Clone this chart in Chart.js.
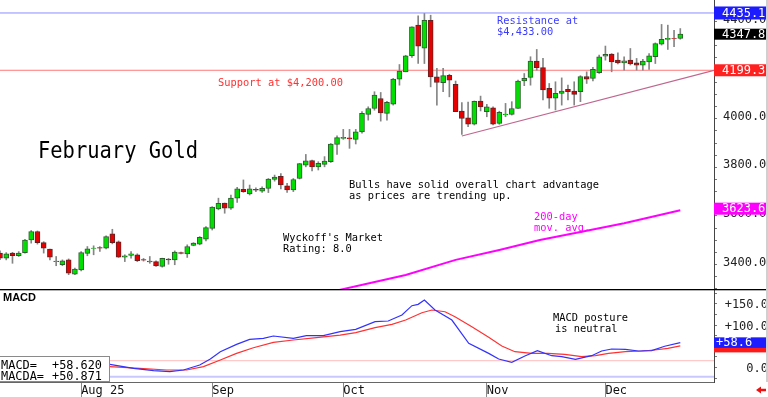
<!DOCTYPE html>
<html><head><meta charset="utf-8">
<script src="https://cdn.jsdelivr.net/npm/chart.js@4.4.1/dist/chart.umd.min.js"></script>
<style>
html,body{margin:0;padding:0;background:#fff;overflow:hidden;}
#wrap{position:relative;width:768px;height:397px;background:#fff;}
canvas{position:absolute;left:0;}
#c1{top:0;width:768px;height:289px;}
#c2{top:289px;width:768px;height:108px;}
</style></head><body>
<div id="wrap"><canvas id="c1" width="768" height="289"></canvas><canvas id="c2" width="768" height="108"></canvas></div>
<script>
// ---- Daily candles, Feb gold, Jul 15 - Dec 16 2025 (index = trading day) ----
const opens  = [3447,3426,3447,3436,3449,3501,3536,3490,3463,3412,3399,3419,3360,3378,3446,3466,3470,3467,3526,3493,
                3430,3437,3440,3420,3411,3412,3392,3422,3419,3449,3444,3479,3484,3504,3549,3629,3653,3632,3673,3709,
                3690,3709,3702,3713,3750,3763,3724,3707,3754,3809,3828,3802,3812,3823,3894,3919,3921,3915,3946,4018,
                4042,4083,4022,4060,4163,4193,4259,4385,4290,4405,4172,4148,4179,4141,4031,4004,3977,4073,4029,4045,
                3981,4016,4018,4042,4156,4170,4237,4210,4125,4084,4104,4121,4114,4111,4173,4166,4189,4257,4266,4241,
                4230,4241,4230,4220,4234,4255,4307,4326,4331,4330];
const highs  = [3456,3449,3450,3453,3504,3540,3538,3494,3463,3433,3419,3423,3385,3453,3474,3477,3474,3518,3545,3497,
                3440,3453,3444,3425,3433,3415,3426,3425,3456,3451,3481,3490,3515,3556,3638,3673,3653,3686,3718,3748,
                3727,3716,3720,3754,3768,3774,3734,3754,3816,3853,3830,3823,3844,3898,3930,3956,3956,3956,4029,4049,
                4111,4108,4072,4166,4223,4261,4378,4423,4433,4426,4207,4207,4183,4155,4066,4068,4073,4093,4059,4049,
                4031,4063,4070,4159,4186,4255,4285,4248,4145,4152,4168,4138,4152,4177,4193,4211,4262,4299,4268,4271,
                4255,4289,4248,4244,4268,4312,4388,4385,4364,4371];
const lows   = [3420,3419,3405,3433,3447,3488,3484,3447,3419,3395,3395,3358,3358,3374,3436,3440,3454,3464,3485,3429,
                3412,3426,3412,3414,3405,3392,3389,3401,3399,3444,3429,3477,3481,3497,3542,3625,3611,3627,3655,3697,
                3686,3700,3697,3696,3743,3711,3697,3700,3752,3802,3785,3789,3802,3820,3853,3915,3878,3896,3940,3994,
                4035,3990,3994,4056,4138,4193,4252,4227,4227,4131,4056,4111,4090,4029,3935,3967,3974,4032,4008,3974,
                3977,4008,4015,4042,4136,4138,4200,4077,4043,4036,4056,4077,4056,4070,4145,4156,4186,4241,4193,4225,
                4200,4221,4200,4200,4203,4227,4303,4285,4296,4327];
const closes = [3426,3444,3436,3447,3501,3536,3490,3467,3430,3414,3415,3364,3381,3449,3464,3468,3467,3515,3490,3430,
                3436,3444,3416,3418,3414,3394,3425,3419,3451,3446,3474,3488,3512,3552,3636,3652,3632,3673,3711,3700,
                3711,3706,3713,3752,3760,3727,3707,3750,3815,3827,3802,3816,3826,3896,3922,3923,3917,3946,4022,4042,
                4097,4024,4067,4163,4196,4259,4378,4298,4405,4172,4149,4177,4159,4029,4001,3977,4072,4049,4049,3977,
                4026,4019,4042,4155,4166,4237,4210,4118,4084,4104,4114,4111,4100,4173,4163,4203,4255,4265,4234,4230,
                4238,4225,4220,4237,4259,4309,4327,4331,4330,4347.8];

// 200-day moving average (index, value)
const maIdx  = [54, 65, 73, 80, 86.5, 94.6, 100, 109];
const maVals = [3293, 3357, 3419, 3460, 3501, 3542, 3570, 3623.6];

// Levels
const resistanceLevel = 4435.1;
const supportLevel = 4199.3;
const trendIdx  = [74, 114.4];
const trendVals = [3929, 4199];

// MACD (index, value)
const macdIdx  = [17.6,21.4,24.6,27.2,29.4,32,33.7,35.3,37.9,40,42.2,43.8,47,49.1,51.8,54.5,57,60.1,62.2,64.4,66,67,68,69.7,72.4,75.1,78.3,79.9,82,84.1,86.1,88.4,90,92.2,94.8,96.4,98,100.2,102.3,104.4,106.5,109];
const macdVals = [7.4,-2,-7.5,-9.8,-5.9,5.9,20,37.2,54.5,66.3,68.6,74.1,68.6,74.9,74.9,84.3,89.8,107.8,109.4,123.5,145.5,148.6,158.8,135.3,111.7,56.8,33.3,20,12.1,27,39.6,27.8,25.5,19.2,27.8,38.8,43.5,42.7,38.8,39.6,50,58.62];
const sigIdx   = [17.6,22.4,26.7,29.9,32.6,35.3,37.9,40.6,43.8,47,50.7,54.5,57,60.1,62.8,65,67.6,69.2,71.3,72.9,75.6,78.3,80.4,82.5,85.2,87.8,90.5,93.2,95.4,97.5,100.2,102.8,104.9,107,109];
const sigVals  = [2,-2,-5.9,-5.9,2,17.6,33.3,46.6,59.2,64.7,70.2,76.4,82,93.7,101.5,111.7,129,135.3,131.3,119.6,96.1,71,50.6,37.2,33.3,33.3,31,25.5,27.8,33.3,37.2,38.8,41.2,45.1,50.871];
const macdUpperRef = 16;
const macdLowerRef = -21.6;

// Axis ticks
const priceTicks = [3300,3350,3400,3450,3500,3550,3600,3650,3700,3750,3800,3850,3900,3950,4000,4050,4100,4150,4200,4250,4300,4350,4400,4450];
const priceLabelTicks = [3400,3600,3800,4000,4400];
const macdTicks = [-25,0,25,50,75,100,125,150,175];
const macdLabelTicks = [0,100,150];
const monthIdx = [13, 34, 55, 78, 97];
const monthLabels = ['Aug 25', 'Sep', 'Oct', 'Nov', 'Dec'];

const XMIN = 0, XMAX = 114.4;
const MONO = '"DejaVu Sans Mono", "Liberation Mono", monospace';
const idx = opens.map((_, i) => i);
const pts = (xs, ys) => xs.map((x, i) => ({x: x, y: ys[i]}));

function txt(ctx, s, x, y, color, size, w) {
  ctx.save();
  ctx.fillStyle = color;
  ctx.font = size + 'px ' + MONO;
  ctx.textAlign = 'left';
  ctx.textBaseline = 'alphabetic';
  ctx.fillText(s, x, y, w || s.length * 6.25);
  ctx.restore();
}
function box(ctx, yc, h, s, bg, tx) {
  ctx.save();
  ctx.fillStyle = bg;
  ctx.fillRect(714, yc - h / 2, 54, h);
  ctx.fillStyle = '#fff';
  ctx.font = '12px ' + MONO;
  ctx.textBaseline = 'middle';
  ctx.textAlign = 'left';
  ctx.fillText(s, tx, yc + 0.5);
  ctx.restore();
}

const priceDecor = {
  id: 'priceDecor',
  afterDraw(chart) {
    const ctx = chart.ctx, y = chart.scales.y;
    txt(ctx, 'Resistance at', 497, 24, '#3c3cff', 11);
    txt(ctx, '$4,433.00', 497, 35, '#3c3cff', 11);
    txt(ctx, 'Support at $4,200.00', 218, 86, '#ff3030', 11);
    txt(ctx, 'February Gold', 38, 158, '#000', 23, 160);
    txt(ctx, 'Bulls have solid overall chart advantage', 349, 188, '#000', 11);
    txt(ctx, 'as prices are trending up.', 349, 199, '#000', 11);
    txt(ctx, "Wyckoff's Market", 283, 241, '#000', 11);
    txt(ctx, 'Rating: 8.0', 283, 252, '#000', 11);
    txt(ctx, '200-day', 534, 220, '#ff00ff', 11);
    txt(ctx, 'mov. avg.', 534, 230.5, '#ff00ff', 11);
    box(ctx, y.getPixelForValue(resistanceLevel), 13, resistanceLevel.toFixed(1), '#1c1cff', 722);
    box(ctx, y.getPixelForValue(closes[closes.length - 1]), 11, closes[closes.length - 1].toFixed(1), '#000', 722);
    box(ctx, y.getPixelForValue(supportLevel), 12, supportLevel.toFixed(1), '#ff2020', 722);
    box(ctx, y.getPixelForValue(maVals[maVals.length - 1]) - 1.5, 12, maVals[maVals.length - 1].toFixed(1), '#ff00ff', 722);
    ctx.save();
    ctx.fillStyle = '#d0d0d0';
    ctx.fillRect(766, 0, 2, 289);
    ctx.restore();
  }
};

new Chart(document.getElementById('c1'), {
  type: 'bar',
  data: {
    datasets: [
      {type: 'line', data: pts(maIdx, maVals), borderColor: '#ff00ff', borderWidth: 2, pointRadius: 0, tension: 0, order: 0},
      {type: 'line', data: pts(trendIdx, trendVals), borderColor: '#c0668e', borderWidth: 1.2, pointRadius: 0, order: 1},
      {type: 'line', data: pts([XMIN, XMAX], [resistanceLevel, resistanceLevel]), borderColor: '#8c8cff', borderWidth: 1, pointRadius: 0, order: 7},
      {type: 'line', data: pts([XMIN, XMAX], [supportLevel, supportLevel]), borderColor: '#ff7878', borderWidth: 1, pointRadius: 0, order: 7},
      {data: idx.map(i => ({x: i, y: [opens[i], closes[i]]})),
       backgroundColor: idx.map(i => closes[i] >= opens[i] ? '#00e000' : '#e60000'),
       borderColor: idx.map(i => closes[i] >= opens[i] ? '#2d5e2d' : '#5e2424'),
       borderWidth: 1, borderSkipped: false, barThickness: 5, grouped: false, order: 4},
      {data: idx.map(i => ({x: i, y: [lows[i], highs[i]]})),
       backgroundColor: '#858585', borderWidth: 0, barThickness: 1, grouped: false, order: 5}
    ]
  },
  options: {
    responsive: false, animation: false, devicePixelRatio: 1,
    layout: {padding: 0, autoPadding: false},
    plugins: {legend: {display: false}, tooltip: {enabled: false}},
    scales: {
      x: {type: 'linear', min: XMIN, max: XMAX, offset: false, display: true,
          afterFit: s => { s.height = 0; s.paddingLeft = 0; s.paddingRight = 0; },
          ticks: {display: false}, grid: {display: false, drawTicks: false}, border: {display: false}},
      y: {
        position: 'right', min: 3299.2, max: 4488.5,
        afterBuildTicks: s => { s.ticks = priceTicks.map(v => ({value: v})); },
        afterFit: s => { s.width = 54; s.paddingTop = 0; s.paddingBottom = 0; },
        ticks: {autoSkip: false, padding: 6, labelOffset: -2, color: '#222',
                font: {family: MONO, size: 12},
                callback: v => priceLabelTicks.includes(v) ? v.toFixed(1) : ''},
        grid: {drawOnChartArea: false, drawTicks: true, tickLength: 3, color: '#777'},
        border: {display: true, color: '#444'}
      }
    }
  },
  plugins: [priceDecor]
});

const macdDecor = {
  id: 'macdDecor',
  afterDraw(chart) {
    const ctx = chart.ctx, y = chart.scales.y;
    ctx.save();
    ctx.fillStyle = '#000';
    ctx.fillRect(0, 0, 768, 1.3);
    ctx.font = 'bold 11px "Liberation Sans", Arial, sans-serif';
    ctx.textBaseline = 'middle';
    ctx.fillText('MACD', 3, 8.5);
    // legend box
    ctx.fillStyle = '#fff';
    ctx.fillRect(0, 68, 110, 25);
    ctx.strokeStyle = '#8a8a8a';
    ctx.lineWidth = 1;
    ctx.strokeRect(-0.5, 67.5, 110, 25);
    ctx.restore();
    txt(ctx, 'MACD=', 1, 79.5, '#000', 12, 36);
    txt(ctx, '+' + macdVals[macdVals.length - 1].toFixed(3), 52, 79.5, '#000', 12, 50);
    txt(ctx, 'MACDA=', 1, 90.5, '#000', 12, 43);
    txt(ctx, '+' + sigVals[sigVals.length - 1].toFixed(3), 52, 90.5, '#000', 12, 50);
    txt(ctx, 'MACD posture', 553, 32, '#000', 11);
    txt(ctx, 'is neutral', 555, 42.5, '#000', 11);
    // value boxes
    const ys = y.getPixelForValue(sigVals[sigVals.length - 1]);
    const ym = y.getPixelForValue(macdVals[macdVals.length - 1]);
    ctx.save();
    ctx.fillStyle = '#ff1a1a';
    ctx.fillRect(714, ys - 6, 54, 12.5);
    ctx.restore();
    box(ctx, ym, 10.5, '+' + macdVals[macdVals.length - 1].toFixed(1), '#1c1cff', 716);
    // red arrow
    ctx.save();
    ctx.fillStyle = '#ee1111';
    ctx.beginPath();
    ctx.moveTo(756, 101); ctx.lineTo(761, 97.5); ctx.lineTo(761, 99.8); ctx.lineTo(766, 99.8);
    ctx.lineTo(766, 102.2); ctx.lineTo(761, 102.2); ctx.lineTo(761, 104.5); ctx.closePath();
    ctx.fill();
    ctx.fillStyle = '#d0d0d0';
    ctx.fillRect(766, 0, 2, 93);
    ctx.restore();
  }
};

new Chart(document.getElementById('c2'), {
  type: 'line',
  data: {
    datasets: [
      {data: pts(macdIdx, macdVals), borderColor: '#3232ff', borderWidth: 1.2, pointRadius: 0, tension: 0, order: 0},
      {data: pts(sigIdx, sigVals), borderColor: '#ff3232', borderWidth: 1.2, pointRadius: 0, tension: 0, order: 1},
      {data: pts([XMIN, XMAX], [macdUpperRef, macdUpperRef]), borderColor: '#ffbcbc', borderWidth: 1, pointRadius: 0, order: 3},
      {data: pts([XMIN, XMAX], [macdLowerRef, macdLowerRef]), borderColor: '#c8c8ff', borderWidth: 2, pointRadius: 0, order: 3}
    ]
  },
  options: {
    responsive: false, animation: false, devicePixelRatio: 1,
    layout: {padding: {top: 1, left: 0, right: 0, bottom: 0}, autoPadding: false},
    plugins: {legend: {display: false}, tooltip: {enabled: false}},
    scales: {
      x: {
        type: 'linear', min: XMIN, max: XMAX, position: 'bottom', offset: false,
        afterBuildTicks: s => { s.ticks = monthIdx.map(v => ({value: v})); },
        afterFit: s => { s.height = 15; s.paddingLeft = 0; s.paddingRight = 0; },
        ticks: {autoSkip: false, maxRotation: 0, minRotation: 0, align: 'start', padding: -13,
                color: '#111', font: {family: MONO, size: 12},
                callback: (v, i) => monthLabels[i]},
        grid: {drawOnChartArea: false, drawTicks: true, tickLength: 15, color: '#8a8a8a'},
        border: {display: true, color: '#666'}
      },
      y: {
        position: 'right', min: -34.1, max: 182.4,
        afterBuildTicks: s => { s.ticks = macdTicks.map(v => ({value: v})); },
        afterFit: s => { s.width = 54; s.paddingTop = 0; s.paddingBottom = 0; },
        ticks: {autoSkip: false, crossAlign: 'far', padding: -1, labelOffset: 1.5, color: '#222',
                font: {family: MONO, size: 12},
                callback: v => macdLabelTicks.includes(v) ? (v > 0 ? '+' : '') + v.toFixed(1) : ''},
        grid: {drawOnChartArea: false, drawTicks: true, tickLength: 3, color: '#777'},
        border: {display: true, color: '#444'}
      }
    }
  },
  plugins: [macdDecor]
});
</script>
</body></html>
